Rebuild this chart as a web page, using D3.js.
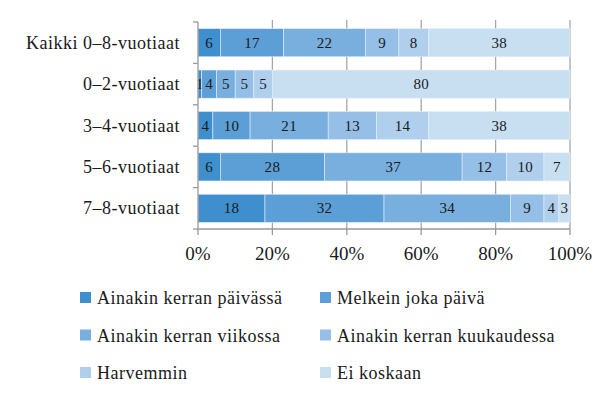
<!DOCTYPE html>
<html><head><meta charset="utf-8">
<script src="https://cdn.jsdelivr.net/npm/d3@7"></script>
<style>body{margin:0;background:#fff;} svg{display:block;}</style>
</head><body>
<svg id="c" width="609" height="407"></svg>
<script>
const categories = ["Kaikki 0–8-vuotiaat","0–2-vuotiaat","3–4-vuotiaat","5–6-vuotiaat","7–8-vuotiaat"];
const seriesNames = ["Ainakin kerran päivässä","Melkein joka päivä","Ainakin kerran viikossa","Ainakin kerran kuukaudessa","Harvemmin","Ei koskaan"];
const s1 = [6,1,4,6,18];
const s2 = [17,4,10,28,32];
const s3 = [22,5,21,37,34];
const s4 = [9,5,13,12,9];
const s5 = [8,5,14,10,4];
const s6 = [38,80,38,7,3];
const xTicks = [0,20,40,60,80,100];
const colors = ["#3f8fcf","#5c9fd6","#78afdf","#95bfe6","#afcfec","#c8dff2"];

const series = [s1,s2,s3,s4,s5,s6];
const FF = '"Liberation Serif"';
const svg = d3.select("#c");
const m = {left:198, right:570, top:22, bottom:229};
const x = d3.scaleLinear().domain([0,100]).range([m.left,m.right]);
const y = d3.scaleBand().domain(categories).range([m.top,m.bottom]).paddingInner(0.32).paddingOuter(0.16);

svg.append("g").selectAll("line").data(xTicks.slice(1)).join("line")
  .attr("x1",d=>x(d)).attr("x2",d=>x(d)).attr("y1",m.top-2).attr("y2",m.bottom)
  .attr("stroke","#a6a6a6").attr("stroke-width",1.3);

const rows = categories.map((c,i)=>{const o={cat:c}; seriesNames.forEach((s,j)=>o[s]=series[j][i]); return o;});
const stack = d3.stack().keys(seriesNames)(rows);
const g = svg.append("g");
stack.forEach((layer,j)=>{
  g.selectAll(null).data(layer).join("rect")
    .attr("x",d=>x(d[0])).attr("width",d=>x(d[1])-x(d[0]))
    .attr("y",d=>y(d.data.cat)).attr("height",y.bandwidth())
    .attr("fill",colors[j]).attr("stroke","#e6eef6").attr("stroke-width",0.6);
  g.selectAll(null).data(layer).join("text")
    .attr("x",d=>x((d[0]+d[1])/2)).attr("y",d=>y(d.data.cat)+y.bandwidth()/2+5)
    .attr("text-anchor","middle").style("font-family",FF).style("font-size","15px").style("letter-spacing","0.3px")
    .attr("fill","#1a1a1a").text(d=>d[1]-d[0]);
});

const ax = svg.append("g");
ax.append("line").attr("x1",m.left).attr("x2",m.left).attr("y1",m.top).attr("y2",m.bottom).attr("stroke","#999").attr("stroke-width",1.3);
ax.append("line").attr("x1",m.left).attr("x2",m.right).attr("y1",m.bottom).attr("y2",m.bottom).attr("stroke","#999").attr("stroke-width",1.3);
const bounds = [m.top].concat(categories.map(c=>y(c)+y.bandwidth()+y.step()*y.paddingInner()/2));
bounds[bounds.length-1]=m.bottom;
ax.selectAll(".yt").data(bounds).join("line").attr("x1",m.left-5).attr("x2",m.left).attr("y1",d=>d).attr("y2",d=>d).attr("stroke","#999").attr("stroke-width",1.3);
ax.selectAll(".xt").data(xTicks).join("line").attr("x1",d=>x(d)).attr("x2",d=>x(d)).attr("y1",m.bottom).attr("y2",m.bottom+6).attr("stroke","#999").attr("stroke-width",1.3);
ax.selectAll(".xl").data(xTicks).join("text").attr("x",d=>x(d)).attr("y",m.bottom+31)
  .attr("text-anchor","middle").style("font-family",FF).style("font-size","19px").attr("fill","#1a1a1a").text(d=>d+"%");
ax.selectAll(".yl").data(categories).join("text").attr("x",180).attr("y",d=>y(d)+y.bandwidth()/2+6)
  .attr("text-anchor","end").style("font-family",FF).style("font-size","18px").style("letter-spacing","0.5px").attr("fill","#1a1a1a").text(d=>d);

const lg = svg.append("g");
seriesNames.forEach((s,i)=>{
  const col=i%2, row=Math.floor(i/2);
  const lx = col? 320:80, ly = 298+row*37.5;
  lg.append("rect").attr("x",lx).attr("y",ly-6).attr("width",11).attr("height",11).attr("fill",colors[i]);
  lg.append("text").attr("x",lx+17).attr("y",ly+6).style("font-family",FF).style("font-size","18px").style("letter-spacing","0.5px").attr("fill","#1a1a1a").text(s);
});
</script>
</body></html>
